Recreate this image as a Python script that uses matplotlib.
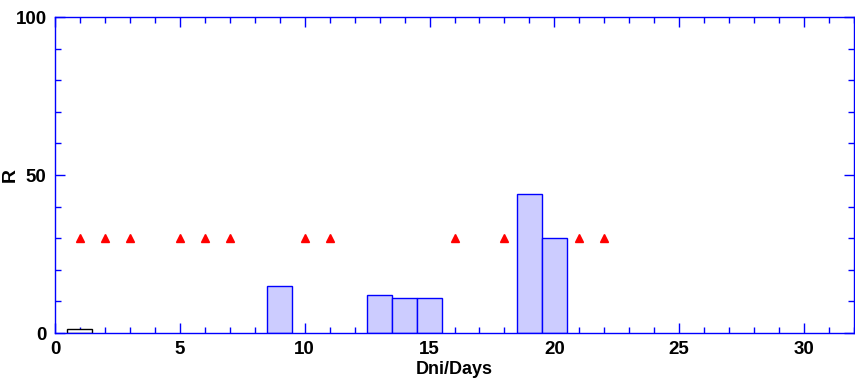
import matplotlib
matplotlib.use('Agg')
from matplotlib import pyplot as plt
from matplotlib.ticker import MultipleLocator

plt.rcParams['font.family'] = ['Liberation Sans', 'DejaVu Sans']

# histogram bars
bar_days = [9, 13, 14, 15, 19, 20]
bar_vals = [15, 12, 11, 11, 44, 30]
white_days = [1]
white_vals = [1.2]
# triangle markers
tri_days = [1, 2, 3, 5, 6, 7, 10, 11, 16, 18, 21, 22]
tri_vals = [30] * len(tri_days)

fig = plt.figure(figsize=(8.55, 3.79), dpi=100)
ax = fig.add_axes([55/855, 46/379, 799/855, 316/379])

ax.bar(bar_days, bar_vals, width=1, color='#CCCCFF', edgecolor='blue', linewidth=1, zorder=2)
ax.bar(white_days, white_vals, width=1, color='white', edgecolor='black', linewidth=1, zorder=2)
ax.plot(tri_days, tri_vals, '^', color='red', markersize=6, linestyle='none', zorder=3)

ax.set_xlim(0, 32)
ax.set_ylim(0, 100)
ax.xaxis.set_major_locator(MultipleLocator(5))
ax.xaxis.set_minor_locator(MultipleLocator(1))
ax.yaxis.set_major_locator(MultipleLocator(50))
ax.yaxis.set_minor_locator(MultipleLocator(10))
ax.tick_params(which='both', direction='in', color='blue', top=True, right=True, width=1)
ax.tick_params(which='major', length=7, labelsize=13.5, pad=6)
ax.tick_params(which='minor', length=4)
for lab in ax.get_xticklabels() + ax.get_yticklabels():
    lab.set_fontweight('bold')
for sp in ax.spines.values():
    sp.set_color('blue')
    sp.set_linewidth(1)

ax.set_xlabel('Dni/Days', fontsize=13, fontweight='bold', labelpad=2)
ax.set_ylabel('R', fontsize=14, fontweight='bold')
ax.yaxis.set_label_coords(-0.045, 0.5)

plt.savefig('out.png', dpi=100)
